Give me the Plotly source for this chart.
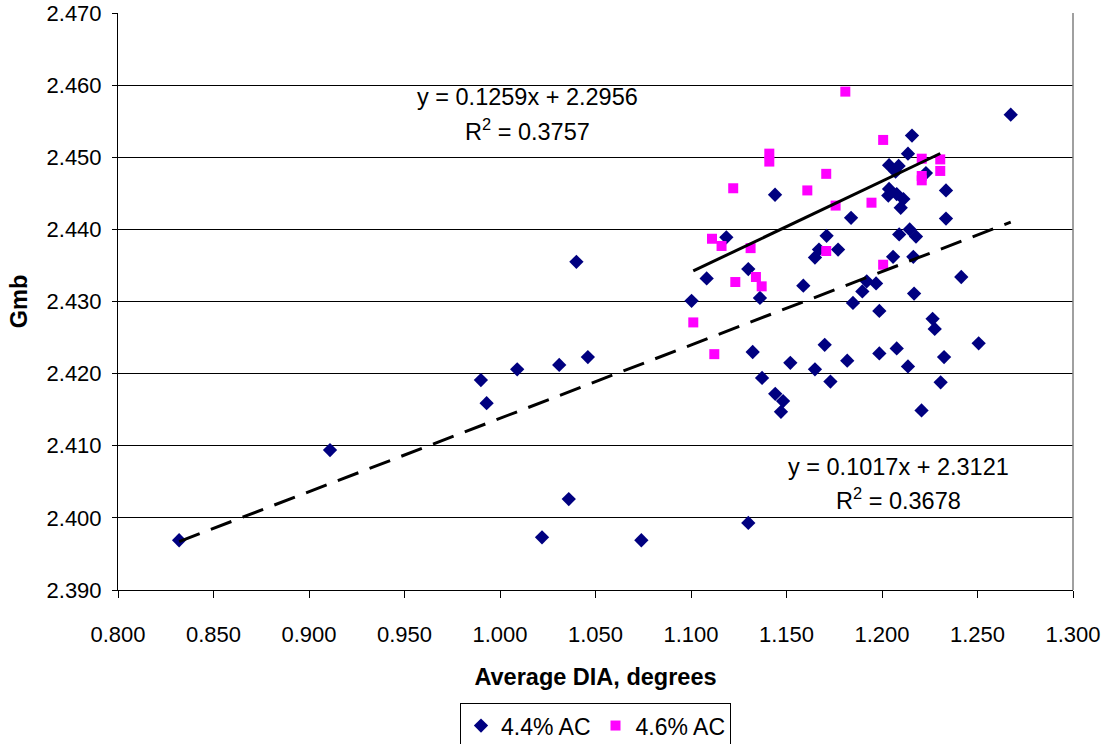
import plotly.graph_objects as go

# 4.4% AC series
ac44_x = [0.832, 0.911, 0.990, 0.993, 1.009, 1.031, 1.046, 1.040, 1.022, 1.036, 1.074, 1.130,
          1.2157, 1.2136, 1.2037, 1.2087, 1.2071, 1.2230, 1.2335, 1.2037, 1.2033, 1.2077, 1.2112,
          1.2098, 1.1440, 1.1838, 1.2335, 1.1185, 1.1710, 1.2090, 1.2145, 1.2178, 1.1670, 1.1649,
          1.1770, 1.1300, 1.2058, 1.2164, 1.1082, 1.1920, 1.2415, 1.1003, 1.1361, 1.1588, 1.1897,
          1.1969, 1.2168, 1.1848, 1.1986, 1.2265, 1.2276, 1.2506, 1.1323, 1.1700, 1.1986, 1.2077,
          1.2325, 1.1520, 1.1649, 1.1818, 1.2136, 1.1372, 1.1730, 1.2307, 1.1441, 1.1482, 1.1471,
          1.2207, 1.2674]
ac44_y = [2.3969, 2.4094, 2.4191, 2.4159, 2.4206, 2.4212, 2.4223, 2.4355, 2.3973, 2.4026, 2.3969, 2.3993,
          2.4530, 2.4505, 2.4489, 2.4488, 2.4480, 2.4478, 2.4454, 2.4456, 2.4447, 2.4449, 2.4442,
          2.4430, 2.4448, 2.4416, 2.4415, 2.4389, 2.4391, 2.4393, 2.4400, 2.4390, 2.4372, 2.4361,
          2.4372, 2.4345, 2.4362, 2.4362, 2.4332, 2.4328, 2.4334, 2.4301, 2.4305, 2.4322, 2.4314,
          2.4325, 2.4311, 2.4298, 2.4287, 2.4276, 2.4262, 2.4242, 2.4230, 2.4240, 2.4228, 2.4235,
          2.4223, 2.4215, 2.4206, 2.4218, 2.4210, 2.4194, 2.4189, 2.4188, 2.4172, 2.4162, 2.4147,
          2.4149, 2.4559]

# 4.6% AC series
ac46_x = [1.1808, 1.2006, 1.1410, 1.1410, 1.1221, 1.1609, 1.1708, 1.1757, 1.1945, 1.2208,
          1.2208, 1.2208, 1.2305, 1.2305, 1.1110, 1.1160, 1.1312, 1.1708, 1.2006, 1.1232,
          1.1340, 1.1370, 1.1012, 1.1122]
ac46_y = [2.4591, 2.4524, 2.4505, 2.4494, 2.4457, 2.4454, 2.4477, 2.4433, 2.4437, 2.4498,
          2.4474, 2.4468, 2.4497, 2.4481, 2.4387, 2.4377, 2.4374, 2.4370, 2.4351, 2.4327,
          2.4334, 2.4321, 2.4271, 2.4227]

# Trendline equations shown on chart
fit44_slope, fit44_intercept, fit44_r2 = 0.1017, 2.3121, 0.3678
fit46_slope, fit46_intercept, fit46_r2 = 0.1259, 2.2956, 0.3757

x_ticks = [0.80, 0.85, 0.90, 0.95, 1.00, 1.05, 1.10, 1.15, 1.20, 1.25, 1.30]
y_ticks = [2.39, 2.40, 2.41, 2.42, 2.43, 2.44, 2.45, 2.46, 2.47]

FONT = "Liberation Sans, Arial, sans-serif"

fig = go.Figure()
fig.add_trace(go.Scatter(x=ac44_x, y=ac44_y, mode="markers", name="4.4% AC",
                         marker=dict(symbol="diamond", color="#000080", size=11,
                                     line=dict(width=0))))
fig.add_trace(go.Scatter(x=ac46_x, y=ac46_y, mode="markers", name="4.6% AC",
                         marker=dict(symbol="square", color="#FF00FF", size=10,
                                     line=dict(width=0))))

t44_x = [min(ac44_x), max(ac44_x)]
t44_y = [fit44_slope * v + fit44_intercept for v in t44_x]
t46_x = [min(ac46_x), max(ac46_x)]
t46_y = [fit46_slope * v + fit46_intercept for v in t46_x]
fig.add_trace(go.Scatter(x=t44_x, y=t44_y, mode="lines", showlegend=False,
                         line=dict(color="black", width=3, dash="22px,12px")))
fig.add_trace(go.Scatter(x=t46_x, y=t46_y, mode="lines", showlegend=False,
                         line=dict(color="black", width=3)))

ann_font = dict(family=FONT, size=23.5, color="black")
ann_common = dict(xref="paper", yref="paper", showarrow=False, font=ann_font,
                  xanchor="center", yanchor="middle")
annotations = [
    dict(x=0.4283, y=0.8544, text=f"y = {fit46_slope}x + {fit46_intercept}", **ann_common),
    dict(x=0.4283, y=0.7972, text=f"R<sup>2</sup> = {fit46_r2}", **ann_common),
    dict(x=0.8178, y=0.2132, text=f"y = {fit44_slope}x + {fit44_intercept}", **ann_common),
    dict(x=0.8178, y=0.1577, text=f"R<sup>2</sup> = {fit44_r2}", **ann_common),
]

fig.update_layout(
    width=1107, height=744,
    margin=dict(l=118, r=34, t=13, b=154, autoexpand=False),
    paper_bgcolor="white", plot_bgcolor="white",
    font=dict(family=FONT, size=22, color="black"),
    annotations=annotations,
    shapes=[dict(type="line", xref="paper", yref="paper", x0=1, x1=1, y0=0, y1=1,
                 line=dict(color="#808080", width=1.5))],
    legend=dict(orientation="h", x=0.5, xanchor="center", yref="container", y=0.055,
                yanchor="top", bordercolor="black", borderwidth=1,
                font=dict(size=23), itemwidth=30, tracegroupgap=0),
    xaxis=dict(range=[0.8, 1.3], tickvals=x_ticks, ticktext=[f"{v:.3f}" for v in x_ticks],
               automargin=False,
               showgrid=False, zeroline=False, showline=True, linecolor="black", linewidth=1,
               ticks="outside", ticklen=7, tickcolor="black", ticklabelstandoff=18,
               title=dict(text="<b>Average DIA, degrees</b>", font=dict(size=23.5), standoff=22)),
    yaxis=dict(range=[2.39, 2.47], tickvals=y_ticks, ticktext=[f"{v:.3f}" for v in y_ticks],
               automargin=False,
               showgrid=True, gridcolor="black", gridwidth=1, zeroline=False,
               showline=True, linecolor="black", linewidth=1,
               ticks="outside", ticklen=5, tickcolor="black", ticklabelstandoff=6,
               title=dict(text="<b>Gmb</b>", font=dict(size=23.5), standoff=12)),
)

fig.write_html("out.html")
